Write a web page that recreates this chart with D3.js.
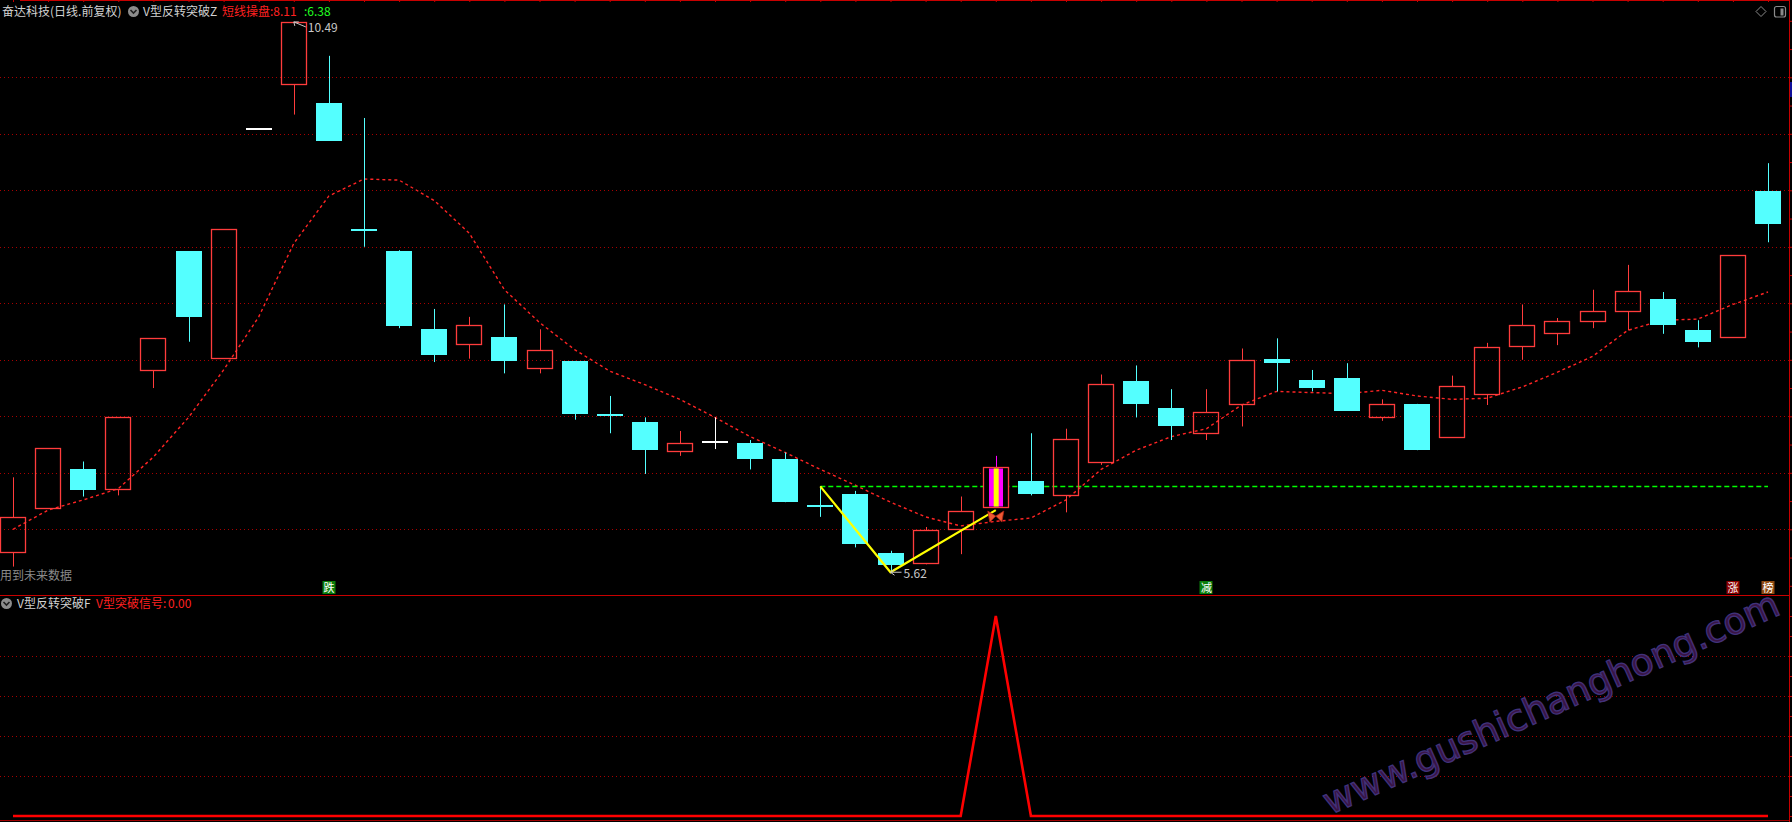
<!DOCTYPE html>
<html><head><meta charset="utf-8">
<script src="https://cdn.jsdelivr.net/npm/d3@7"></script>
<style>html,body{margin:0;padding:0;background:#000;overflow:hidden}</style>
</head><body>
<svg id="c" width="1792" height="822"></svg>
<script>
// ---------- data ----------
const openP  = [5.80,6.19,6.53,6.36,7.41,8.46,7.52,9.54,9.94,9.77,8.65,8.46,7.77,7.64,7.70,7.43,7.49,7.01,6.95,6.69,6.77,6.76,6.62,6.21,6.31,5.79,5.70,6.00,6.20,6.43,6.30,6.60,7.31,7.07,6.85,7.11,7.51,7.32,7.34,6.99,7.11,6.82,7.20,7.62,7.74,7.84,7.93,8.04,7.76,7.70,8.99];
const highP  = [6.46,6.72,6.60,6.99,7.69,8.46,8.66,9.54,10.49,10.19,9.64,8.47,7.95,7.88,7.99,7.77,7.49,7.18,6.99,6.87,6.99,6.79,6.68,6.38,6.34,5.81,6.02,6.29,6.65,6.85,6.89,7.37,7.45,7.24,7.24,7.60,7.69,7.41,7.47,7.15,7.11,7.36,7.65,7.99,7.87,8.12,8.34,8.10,7.85,8.43,9.24];
const lowP   = [5.67,6.19,6.29,6.30,7.25,7.66,7.52,9.54,9.67,9.44,8.50,7.78,7.48,7.51,7.38,7.38,6.97,6.85,6.49,6.65,6.71,6.53,6.24,6.11,5.84,5.62,5.69,5.78,6.20,6.30,6.15,6.57,6.99,6.79,6.79,6.91,7.22,7.22,7.05,6.96,6.70,6.82,7.10,7.50,7.63,7.78,7.76,7.73,7.61,7.70,8.54];
const closeP = [6.11,6.72,6.35,6.99,7.69,7.88,8.66,9.54,10.49,9.44,8.65,7.80,7.54,7.81,7.49,7.59,7.02,7.01,6.70,6.76,6.77,6.62,6.24,6.21,5.87,5.68,5.99,6.16,6.55,6.31,6.80,7.29,7.11,6.91,7.04,7.50,7.47,7.25,7.05,7.11,6.70,7.27,7.61,7.81,7.84,7.93,8.11,7.81,7.66,8.43,8.70];
const maLine = [6.00,6.17,6.26,6.36,6.64,6.99,7.41,7.88,8.53,8.95,9.10,9.09,8.91,8.62,8.12,7.83,7.59,7.40,7.28,7.15,6.99,6.82,6.68,6.53,6.39,6.24,6.11,6.03,6.07,6.10,6.26,6.53,6.70,6.82,6.89,7.10,7.22,7.21,7.20,7.23,7.18,7.15,7.16,7.26,7.39,7.53,7.76,7.85,7.86,7.99,8.10];
const signal = [0,0,0,0,0,0,0,0,0,0,0,0,0,0,0,0,0,0,0,0,0,0,0,0,0,0,0,0,1,0,0,0,0,0,0,0,0,0,0,0,0,0,0,0,0,0,0,0,0,0,0];
const dojiIndex  = [7,10,17,20,23];
const dojiColors = ["#ffffff","#54ffff","#54ffff","#ffffff","#54ffff"];
const specialIndex = 28;
const vIndex = [23,25,28];
const vPrice = [6.38,5.62,6.17];
const breakLevel = 6.38, breakFrom = 23, breakTo = 50;
const priceGrid = [6.0,6.5,7.0,7.5,8.0,8.5,9.0,9.5,10.0];
const signalGrid = [0.2,0.4,0.6,0.8];
const tagIndex = [9,34,49,50];
const tagText  = ["跌","减","涨","榜"];
const tagColor = ["#0a7d0a","#0a7d0a","#8c0000","#8f4a12"];
const highLabel = {i:8, v:"10.49"};
const lowLabel  = {i:25, v:"5.62"};

// ---------- drawing ----------
const W = 1792, H = 822;
const svg = d3.select("#c");
const FONT = "'Noto Sans CJK SC','Noto Sans',sans-serif";
svg.append("rect").attr("width",W).attr("height",H).attr("fill","#000");

const n = closeP.length;
const x  = d3.scaleLinear().domain([0,n-1]).range([13,1768]);
const y  = d3.scaleLinear().domain([6,9]).range([529.3,190.3]);
const y2 = d3.scaleLinear().domain([0,1]).range([816,616]);
const RIGHT = 1789.5, SEP = 595.5;
const bw = 26;
const cx = i => Math.round(x(i)) + 0.5;
const py = v => Math.round(y(v)) + 0.5;

// grid lines
svg.append("g").selectAll("line").data(priceGrid).join("line")
  .attr("x1",0).attr("x2",RIGHT).attr("y1",d=>py(d)).attr("y2",d=>py(d))
  .attr("stroke","#a80000").attr("stroke-dasharray","1,3");
svg.append("g").selectAll("line").data(signalGrid).join("line")
  .attr("x1",0).attr("x2",RIGHT).attr("y1",d=>Math.round(y2(d))+0.5).attr("y2",d=>Math.round(y2(d))+0.5)
  .attr("stroke","#a80000").attr("stroke-dasharray","1,3");

// borders
svg.append("line").attr("x1",20).attr("x2",RIGHT).attr("y1",0.5).attr("y2",0.5).attr("stroke","#c80000");
svg.append("line").attr("x1",0).attr("x2",RIGHT).attr("y1",SEP).attr("y2",SEP).attr("stroke","#c80000");
svg.append("line").attr("x1",0).attr("x2",RIGHT).attr("y1",820.5).attr("y2",820.5).attr("stroke","#a00000");
svg.append("line").attr("x1",RIGHT).attr("x2",RIGHT).attr("y1",0).attr("y2",H).attr("stroke","#c80000");

// right axis ticks via d3 axes
const axMain = d3.axisRight(y).tickValues(d3.range(5.5,10.76,0.25)).tickSize(3).tickFormat("");
const gA = svg.append("g").attr("transform",`translate(${RIGHT},0)`).call(axMain);
gA.select(".domain").remove(); gA.selectAll("line").attr("stroke","#c80000");
const axSig = d3.axisRight(y2).tickValues(d3.range(0,1.01,0.1)).tickSize(3).tickFormat("");
const gB = svg.append("g").attr("transform",`translate(${RIGHT},0)`).call(axSig);
gB.select(".domain").remove(); gB.selectAll("line").attr("stroke","#c80000");
const axTop = d3.axisTop(x).tickValues(d3.range(n)).tickSize(2).tickFormat("");
const gT = svg.append("g").attr("transform","translate(0,2)").call(axTop);
gT.select(".domain").remove(); gT.selectAll("line").attr("stroke","#c80000");
svg.append("rect").attr("x",1790).attr("y",82).attr("width",2).attr("height",15).attr("fill","#10109a");

// MA line (dashed red)
svg.append("path").datum(maLine)
  .attr("d", d3.line().x((d,i)=>x(i)).y(d=>y(d)))
  .attr("fill","none").attr("stroke","#ff2424").attr("stroke-width",1.4).attr("stroke-dasharray","3,3");

// breakout level (green dashed)
svg.append("line").attr("x1",x(breakFrom)).attr("x2",x(breakTo))
  .attr("y1",py(breakLevel)).attr("y2",py(breakLevel))
  .attr("stroke","#00ff00").attr("stroke-width",1.4).attr("stroke-dasharray","5,3");

// candles
const UP = "#ff3c3c", DN = "#54ffff";
const gC = svg.append("g");
d3.range(n).forEach(i => {
  const o = openP[i], h = highP[i], l = lowP[i], c = closeP[i];
  const X = cx(i), L = Math.round(x(i) - bw/2);
  const di = dojiIndex.indexOf(i);
  if (di >= 0) {
    const col = dojiColors[di];
    if (h > l) gC.append("line").attr("x1",X).attr("x2",X).attr("y1",y(h)).attr("y2",y(l)).attr("stroke",col);
    gC.append("rect").attr("x",L).attr("y",Math.round(y(c))-1).attr("width",bw).attr("height",2).attr("fill",col);
    return;
  }
  if (i === specialIndex) {
    const top = Math.round(y(c)), bot = Math.round(y(o));
    gC.append("line").attr("x1",X).attr("x2",X).attr("y1",y(h)).attr("y2",top).attr("stroke","#ff00ff");
    gC.append("rect").attr("x",L+0.5).attr("y",top+0.5).attr("width",bw-1).attr("height",bot-top)
      .attr("fill","#000").attr("stroke",UP).attr("stroke-width",1.3);
    gC.append("rect").attr("x",L+6).attr("y",top+1.5).attr("width",bw-12).attr("height",bot-top-2).attr("fill","#ff00ff");
    gC.append("rect").attr("x",X-2.8).attr("y",top+1.5).attr("width",5).attr("height",bot-top-2).attr("fill","#ffff00");
    return;
  }
  if (c > o) {
    const top = Math.round(y(c)), bot = Math.round(y(o));
    if (h > c) gC.append("line").attr("x1",X).attr("x2",X).attr("y1",y(h)).attr("y2",top).attr("stroke",UP);
    if (l < o) gC.append("line").attr("x1",X).attr("x2",X).attr("y1",bot+1).attr("y2",y(l)).attr("stroke",UP);
    gC.append("rect").attr("x",L+0.5).attr("y",top+0.5).attr("width",bw-1).attr("height",Math.max(1,bot-top))
      .attr("fill","none").attr("stroke",UP).attr("stroke-width",1.3);
  } else {
    const top = Math.round(y(o)), bot = Math.round(y(c));
    if (h > l) gC.append("line").attr("x1",X).attr("x2",X).attr("y1",y(h)).attr("y2",y(l)).attr("stroke",DN);
    gC.append("rect").attr("x",L).attr("y",top).attr("width",bw).attr("height",Math.max(2,bot-top)).attr("fill",DN);
  }
});

// yellow V line
svg.append("path").datum(vIndex.map((d,k)=>[x(d),y(vPrice[k])]))
  .attr("d", d3.line()).attr("fill","none").attr("stroke","#ffff00").attr("stroke-width",2.2);

// butterfly marker under the breakout candle
const bx = x(specialIndex), by = y(vPrice[2]) + 6;
svg.append("path")
  .attr("d",`M${bx},${by} L${bx-8},${by-5} L${bx-6},${by+6} Z M${bx},${by} L${bx+8},${by-5} L${bx+6},${by+6} Z`)
  .attr("fill","#ee5a34").attr("stroke","#b02414").attr("stroke-width",0.8);

// high / low labels
const hx = x(highLabel.i), hy = y(+highLabel.v);
svg.append("path").attr("d",`M${hx},${hy} L${hx+12},${hy+5} M${hx},${hy} L${hx+5},${hy} M${hx},${hy} L${hx+1},${hy+4}`)
  .attr("stroke","#c8c8c8").attr("fill","none");
svg.append("text").attr("x",hx+14).attr("y",hy+10).attr("font-family",FONT).attr("font-size",12)
  .attr("fill","#c8c8c8").text(highLabel.v);
const lx = x(lowLabel.i), ly = y(+lowLabel.v);
svg.append("path").attr("d",`M${lx},${ly} L${lx+11},${ly} M${lx},${ly} L${lx+4},${ly-3} M${lx},${ly} L${lx+4},${ly+3}`)
  .attr("stroke","#c8c8c8").attr("fill","none");
svg.append("text").attr("x",lx+13).attr("y",ly+6).attr("font-family",FONT).attr("font-size",12)
  .attr("fill","#c8c8c8").text(lowLabel.v);

// tags at bottom of main panel
const gTag = svg.append("g");
tagIndex.forEach((d,k)=>{
  gTag.append("rect").attr("x",Math.round(x(d))-6.5).attr("y",581).attr("width",13).attr("height",13).attr("fill",tagColor[k]);
  gTag.append("text").attr("x",x(d)).attr("y",592).attr("text-anchor","middle").attr("font-family",FONT)
    .attr("font-size",11).attr("fill","#ffffff").text(tagText[k]);
});
svg.append("text").attr("x",0).attr("y",580).attr("font-family",FONT).attr("font-size",12)
  .attr("fill","#8a8a8a").text("用到未来数据");

// signal line (bottom panel)
svg.append("path").datum(signal)
  .attr("d", d3.line().x((d,i)=>x(i)).y(d=>y2(d)))
  .attr("fill","none").attr("stroke","#ff0000").attr("stroke-width",2.6).attr("stroke-linejoin","miter");

// header texts
function icon(cxp, cyp){
  svg.append("circle").attr("cx",cxp).attr("cy",cyp).attr("r",5.5).attr("fill","#8c8c8c");
  svg.append("path").attr("d",`M${cxp-3},${cyp-1.5} L${cxp},${cyp+1.5} L${cxp+3},${cyp-1.5}`)
    .attr("stroke","#1e1e1e").attr("stroke-width",1.6).attr("fill","none");
}
function txt(xp, yp, s, col){
  svg.append("text").attr("x",xp).attr("y",yp).attr("font-family",FONT).attr("font-size",12).attr("fill",col).text(s);
}
txt(2,16,"奋达科技(日线.前复权)","#d2d2d2");
icon(133.5,11.5);
txt(143,16,"V型反转突破Z","#d2d2d2");
txt(222,16,"短线操盘:8.11","#ff2020");
txt(304,16,":6.38","#20ff20");
icon(6.5,603.5);
txt(17,608,"V型反转突破F","#d2d2d2");
txt(96,608,"V型突破信号:","#ff2020");
txt(168,608,"0.00","#ff2020");

// top-right icons
svg.append("path").attr("d","M1761,6.5 L1766,11.5 L1761,16.5 L1756,11.5 Z").attr("fill","none").attr("stroke","#8a8a8a");
svg.append("rect").attr("x",1774.5).attr("y",6.5).attr("width",11).attr("height",10.5).attr("rx",2)
  .attr("fill","none").attr("stroke","#8a8a8a").attr("stroke-width",1.2);
svg.append("rect").attr("x",1780.5).attr("y",8.5).attr("width",3).attr("height",7).attr("fill","#8a8a8a");

// watermark
svg.append("text").attr("transform","translate(1330,815) rotate(-24)")
  .attr("font-family","'DejaVu Sans',sans-serif").attr("font-size",37)
  .attr("textLength",495).attr("lengthAdjust","spacing")
  .attr("fill","#3a1444").attr("stroke","#40327a").attr("stroke-width",1.3)
  .text("www.gushichanghong.com");
</script>
</body></html>
